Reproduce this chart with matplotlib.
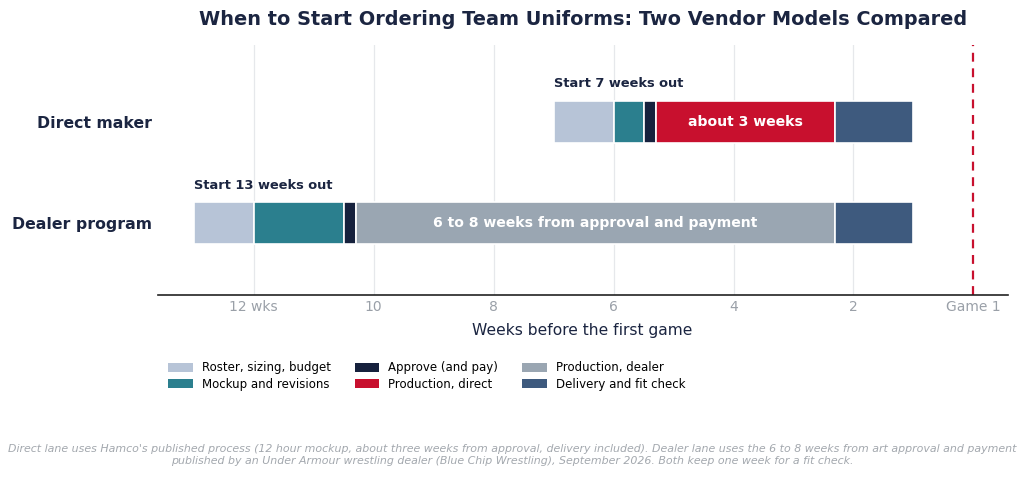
import matplotlib
matplotlib.use("Agg")
import matplotlib.pyplot as plt
from matplotlib.patches import Patch

lanes = ["Dealer program", "Direct maker"]
phases = ["Roster, sizing, budget", "Mockup and revisions", "Approve (and pay)",
          "Production, direct", "Production, dealer", "Delivery and fit check"]
colors = {"Roster, sizing, budget": "#b7c4d7", "Mockup and revisions": "#2b7f8e",
          "Approve (and pay)": "#16213d", "Production, direct": "#c8102e",
          "Production, dealer": "#9aa6b2", "Delivery and fit check": "#3e5a7e"}

# weeks before game: (phase, start, end)
direct_segments = [("Roster, sizing, budget", 7.0, 6.0),
                   ("Mockup and revisions", 6.0, 5.5),
                   ("Approve (and pay)", 5.5, 5.3),
                   ("Production, direct", 5.3, 2.3),
                   ("Delivery and fit check", 2.3, 1.0)]
dealer_segments = [("Roster, sizing, budget", 13.0, 12.0),
                   ("Mockup and revisions", 12.0, 10.5),
                   ("Approve (and pay)", 10.5, 10.3),
                   ("Production, dealer", 10.3, 2.3),
                   ("Delivery and fit check", 2.3, 1.0)]
start_labels = ["Start 13 weeks out", "Start 7 weeks out"]
inner_labels = {"Production, direct": "about 3 weeks",
                "Production, dealer": "6 to 8 weeks from approval and payment"}
xticks = [12, 10, 8, 6, 4, 2, 0]
xticklabels = ["12 wks", "10", "8", "6", "4", "2", "Game 1"]

navy = "#1b2541"
fig = plt.figure(figsize=(10.24, 4.78), dpi=100)
ax = fig.add_axes([0.154, 0.383, 0.830, 0.523])

bar_h = 0.42
for yi, segs in enumerate([dealer_segments, direct_segments]):
    for name, s, e in segs:
        ax.barh(yi, s - e, left=e, height=bar_h, color=colors[name],
                edgecolor="white", linewidth=1.2, zorder=3)
        if name in inner_labels:
            ax.text((s + e) / 2, yi, inner_labels[name], ha="center", va="center",
                    color="white", fontsize=10.1, fontweight="bold", zorder=4)
    ax.text(segs[0][1], yi + bar_h / 2 + 0.1, start_labels[yi], ha="left",
            va="bottom", color=navy, fontsize=9.4, fontweight="bold")

ax.axvline(0, color="#c8102e", linestyle=(0, (4, 3)), linewidth=1.6, zorder=2)
ax.set_xlim(13.6, -0.57)
ax.set_ylim(-0.71, 1.76)
ax.set_yticks([0, 1])
ax.set_yticklabels(lanes, fontsize=11.3, fontweight="bold", color=navy)
ax.set_xticks(xticks)
ax.set_xticklabels(xticklabels, fontsize=10, color="#9aa0a8")
ax.tick_params(axis="x", length=0, pad=4)
ax.tick_params(axis="y", length=0, pad=4)
for x in xticks[:-1]:
    ax.axvline(x, color="#e6e8eb", linewidth=0.9, zorder=0)
for sp in ["top", "right", "left"]:
    ax.spines[sp].set_visible(False)
ax.spines["bottom"].set_color("#222222")
ax.spines["bottom"].set_linewidth(1.2)
ax.set_xlabel("Weeks before the first game", fontsize=11.2, color=navy, labelpad=6)
ax.set_title("When to Start Ordering Team Uniforms: Two Vendor Models Compared",
             fontsize=13.9, fontweight="bold", color=navy, pad=14)

handles = [Patch(facecolor=colors[p], edgecolor="none") for p in phases]
fig.legend(handles, phases, loc="upper left", bbox_to_anchor=(0.154, 0.266),
           ncol=3, frameon=False, fontsize=8.5, handlelength=2.1, handleheight=0.76,
           handletextpad=0.76, columnspacing=2.0, labelspacing=0.28)

fig.text(0.5, 0.048,
         "Direct lane uses Hamco's published process (12 hour mockup, about three weeks from approval, delivery included). "
         "Dealer lane uses the 6 to 8 weeks from art approval and payment\n"
         "published by an Under Armour wrestling dealer (Blue Chip Wrestling), September 2026. Both keep one week for a fit check.",
         ha="center", va="center", fontsize=7.9, style="italic", color="#a3a8ae")

fig.savefig("out.png", dpi=100, facecolor="white")
